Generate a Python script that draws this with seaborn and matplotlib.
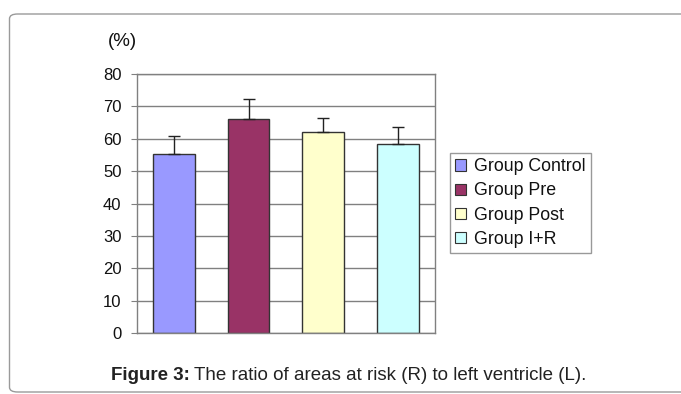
import numpy as np
import pandas as pd
import matplotlib
matplotlib.use('Agg')
import matplotlib.pyplot as plt
import seaborn as sns
from matplotlib.patches import FancyBboxPatch, Patch

groups = ['Group Control', 'Group Pre', 'Group Post', 'Group I+R']
ratio = [55.3, 66.0, 62.1, 58.5]
err_up = [5.7, 6.4, 4.4, 5.2]
colors = ['#9999FF', '#993366', '#FFFFCC', '#CCFFFF']
yticks = [0, 10, 20, 30, 40, 50, 60, 70, 80]

df = pd.DataFrame({'group': groups, 'ratio': ratio})

sns.set_style('white')
plt.rcParams['font.family'] = ['Liberation Sans', 'DejaVu Sans']

fig = plt.figure(figsize=(6.81, 3.94), dpi=100)
W, H = 681, 394
ax = fig.add_axes([136.7 / W, 1 - 333 / H, (435 - 136.7) / W, (333 - 74) / H])

sns.barplot(data=df, x='group', y='ratio', hue='group', palette=colors, saturation=1,
            width=0.56, edgecolor='#333333', linewidth=1.0, legend=False, ax=ax)
ax.errorbar(np.arange(len(groups)), ratio, yerr=[np.zeros(len(groups)), err_up],
            fmt='none', ecolor='#222222', elinewidth=1.0, capsize=4, capthick=1.0)

ax.set_ylim(0, 80)
ax.set_xlim(-0.5, 3.5)
ax.set_yticks(yticks)
ax.set_xticks([])
ax.set_xlabel('')
ax.set_ylabel('')
ax.yaxis.grid(True, color='#808080', linewidth=1.0)
ax.set_axisbelow(True)
for s in ax.spines.values():
    s.set_visible(True)
    s.set_color('#808080')
    s.set_linewidth(1.0)
ax.tick_params(axis='y', length=4, color='#808080', labelsize=12, pad=7, left=True,
               labelcolor='#111111')

# legend
handles = [Patch(facecolor=c, edgecolor='#333333', linewidth=0.8) for c in colors]
leg = fig.legend(handles, groups, loc='upper left', bbox_to_anchor=(450 / W, 1 - 153 / H),
                 fontsize=12.8, frameon=True, fancybox=False, handlelength=0.6, handleheight=0.6,
                 handletextpad=0.45, labelspacing=0.4, borderpad=0.3, borderaxespad=0)
leg.get_frame().set_edgecolor('#808080')
leg.get_frame().set_linewidth(1.0)
for t in leg.get_texts():
    t.set_color('#111111')

fig.text(108 / W, 1 - 42 / H, '(%)', fontsize=13.5, va='center', ha='left', color='#111111')

# caption
fig.text(111 / W, 1 - 375 / H, 'Figure 3:', fontsize=13.5, fontweight='bold',
         va='center', ha='left', color='#222222')
fig.text(194 / W, 1 - 375 / H, 'The ratio of areas at risk (R) to left ventricle (L).',
         fontsize=13.5, va='center', ha='left', color='#222222')

# outer rounded frame
frame = FancyBboxPatch((9.5 / W, 1 - 392 / H), (700 - 9.5) / W, (392 - 14) / H,
                       boxstyle='round,pad=0,rounding_size=0.012', transform=fig.transFigure,
                       facecolor='none', edgecolor='#9a9a9a', linewidth=1.0)
fig.patches.append(frame)

fig.savefig('out.png', dpi=100)
